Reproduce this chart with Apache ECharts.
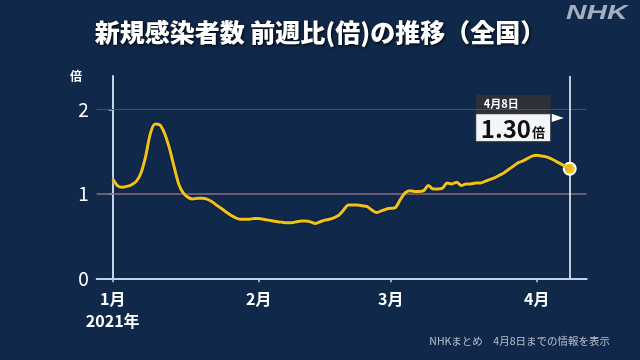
<!DOCTYPE html>
<html><head><meta charset="utf-8">
<script src="https://cdn.jsdelivr.net/npm/echarts@6/dist/echarts.min.js"></script>
<style>html,body{margin:0;padding:0;background:#102849;}#c{width:640px;height:360px;}</style>
</head><body><div id="c"></div>
<script>
// days since 2021-01-01
const dayIndex = [0,1,2,3,4,5,6,7,8,9,10,11,12,13,14,15,16,17,18,19,20,21,22,23,24,25,26,27,28,29,30,31,32,33,34,35,36,37,38,39,40,41,42,43,44,45,46,47,48,49,50,51,52,53,54,55,56,57,58,59,60,61,62,63,64,65,66,67,68,69,70,71,72,73,74,75,76,77,78,79,80,81,82,83,84,85,86,87,88,89,90,91,92,93,94,95,96,97];
const ratio = [1.18,1.10,1.08,1.09,1.11,1.15,1.25,1.45,1.72,1.83,1.82,1.72,1.55,1.33,1.12,1.01,0.96,0.94,0.95,0.95,0.94,0.91,0.87,0.83,0.79,0.75,0.72,0.70,0.70,0.70,0.71,0.71,0.70,0.69,0.68,0.67,0.665,0.66,0.66,0.67,0.68,0.68,0.67,0.65,0.67,0.69,0.70,0.72,0.75,0.81,0.87,0.87,0.87,0.86,0.85,0.81,0.78,0.80,0.82,0.83,0.84,0.93,1.01,1.04,1.03,1.03,1.04,1.10,1.06,1.06,1.07,1.13,1.12,1.14,1.10,1.12,1.12,1.13,1.13,1.15,1.17,1.19,1.22,1.25,1.29,1.33,1.37,1.39,1.42,1.45,1.46,1.45,1.44,1.42,1.39,1.36,1.33,1.30];
const monthStartDays = [0,31,59,90];
const monthLabels = ['1月','2月','3月','4月'];
const yearLabel = '2021年';
const yTicks = [0,1,2];
const lastDateLabel = '4月8日';
const lastValueLabel = '1.30';
const titleText = '新規感染者数 前週比(倍)の推移（全国）';
const sourceText = 'NHKまとめ　4月8日までの情報を表示';

const FONT = '"Noto Sans CJK JP","Noto Sans",sans-serif';
const chart = echarts.init(document.getElementById('c'), null, {renderer:'canvas'});
const data = dayIndex.map((d,i)=>[d, ratio[i]]);
const lastPt = data[data.length-1];

chart.setOption({
  backgroundColor:'#102849',
  animation:false,
  grid:{left:96.7, right:53.3, top:76, bottom:81.7, containLabel:false},
  xAxis:{
    type:'value', min:-3.4, max:100.6,
    axisLine:{show:true, lineStyle:{color:'#c3d2e8', width:2}},
    axisTick:{show:true, customValues:monthStartDays, length:4, lineStyle:{color:'#c3d2e8', width:1.5}},
    splitLine:{show:false},
    axisLabel:{customValues:monthStartDays, color:'#ffffff', fontFamily:FONT, fontWeight:'bold', fontSize:16, lineHeight:22, margin:10,
      formatter:(v)=>{const i=monthStartDays.indexOf(v); return i===0? monthLabels[i]+'\n'+yearLabel : monthLabels[i];}}
  },
  yAxis:{
    type:'value', min:0, max:2.4,
    axisLine:{show:true, lineStyle:{color:'#c3d2e8', width:2}},
    axisTick:{show:true, customValues:yTicks, length:4, lineStyle:{color:'#c3d2e8', width:1.5}},
    splitLine:{show:false},
    axisLabel:{customValues:yTicks, color:'#ffffff', fontFamily:FONT, fontSize:19, margin:8}
  },
  series:[{
    type:'line', data:data, smooth:0.3, symbol:'none',
    lineStyle:{color:'#f2c21b', width:3, shadowColor:'rgba(0,0,0,0.45)', shadowBlur:2},
    z:5,
    markLine:{silent:true, symbol:'none', label:{show:false}, animation:false,
      data:[
        {yAxis:2, lineStyle:{color:'#3d5574', width:1, type:'solid'}},
        {yAxis:1, lineStyle:{color:'#8e6a86', width:1.5, type:'solid'}},
        {xAxis:lastPt[0], lineStyle:{color:'#ffffff', width:1.5, type:'solid'}}
      ]},
    markPoint:{silent:true, symbol:'circle', symbolSize:12, label:{show:false},
      itemStyle:{color:'#f7c21e', borderColor:'#ffffff', borderWidth:2},
      data:[{coord:lastPt}]}
  }]
});

const p = chart.convertToPixel({gridIndex:0}, lastPt);
chart.setOption({
  graphic:[
    {type:'text', left:'center', top:20, style:{text:titleText, fill:'#ffffff', font:'900 25px '+FONT, textShadowColor:'rgba(0,0,0,0.9)', textShadowBlur:3, textShadowOffsetX:1, textShadowOffsetY:1}},
    {type:'text', x:566, y:3, scaleX:1.35, style:{text:'NHK', fill:'rgba(190,198,210,0.85)', font:'italic bold 21px "Liberation Sans",Arial,sans-serif'}},
    {type:'text', x:76, y:76, style:{text:'倍', fill:'#ffffff', font:'bold 12px '+FONT, align:'center', verticalAlign:'middle'}},
    {type:'text', x:610, y:341, style:{text:sourceText, fill:'#b8c1ce', font:'10.5px '+FONT, align:'right', verticalAlign:'middle'}},
    {type:'rect', shape:{x:p[0]-94, y:p[1]-74, width:75, height:19}, style:{fill:'#2b3039'}},
    {type:'rect', shape:{x:p[0]-94, y:p[1]-55, width:75, height:28}, style:{fill:'#f4f5f7', stroke:'#2b3039', lineWidth:1}},
    {type:'polygon', shape:{points:[[p[0]-18,p[1]-55],[p[0]-6,p[1]-50.8],[p[0]-18,p[1]-46.6]]}, style:{fill:'#ffffff'}},
    {type:'text', x:p[0]-86, y:p[1]-64.5, style:{text:lastDateLabel, fill:'#ffffff', font:'bold 11px '+FONT, verticalAlign:'middle'}},
    {type:'text', x:p[0]-89, y:p[1]-40, style:{text:'{a|'+lastValueLabel+'}{b|倍}', verticalAlign:'middle',
      rich:{a:{fill:'#111111', font:'bold 24px '+FONT}, b:{fill:'#111111', font:'bold 13px '+FONT, padding:[7,0,0,1]}}}}
  ]
});
</script></body></html>
